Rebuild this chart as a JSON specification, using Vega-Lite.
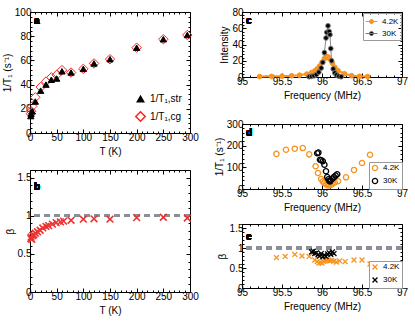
{
  "$schema": "https://vega.github.io/schema/vega-lite/v6.json",
  "padding": {"left": 1, "top": 6, "right": 4, "bottom": 4},
  "config": {
    "font": "Liberation Sans",
    "view": {"stroke": "black", "strokeWidth": 1},
    "axis": {"grid": false, "labelFontSize": 10, "titleFontSize": 10, "titleFontWeight": "normal", "labelColor": "black", "titleColor": "black", "domainColor": "black", "tickColor": "black", "tickSize": -3, "labelPadding": 3, "titlePadding": 2, "labelFlush": false, "labelOverlap": false},
    "legend": {"labelFontSize": 8, "labelColor": "black", "title": null, "rowPadding": 1, "padding": 2, "symbolOffset": 0}
  },
  "spacing": 14,
  "resolve": {"scale": {"color": "independent", "fill": "independent", "stroke": "independent", "shape": "independent", "size": "independent"}},
  "hconcat": [
    {
      "spacing": 12,
      "resolve": {"scale": {"color": "independent", "fill": "independent", "stroke": "independent", "shape": "independent", "size": "independent"}},
      "vconcat": [
        {
          "width": 160, "height": 121,
          "resolve": {"axis": {"x": "independent", "y": "independent"}},
          "data": {"values": [
            {"T": 1.5, "v": 16, "s": "1/T₁,cg"}, {"T": 2, "v": 18, "s": "1/T₁,cg"}, {"T": 4.2, "v": 22, "s": "1/T₁,cg"}, {"T": 10, "v": 29.5, "s": "1/T₁,cg"}, {"T": 20, "v": 38, "s": "1/T₁,cg"}, {"T": 30, "v": 42.5, "s": "1/T₁,cg"}, {"T": 40, "v": 46, "s": "1/T₁,cg"}, {"T": 50, "v": 48, "s": "1/T₁,cg"}, {"T": 60, "v": 52, "s": "1/T₁,cg"}, {"T": 77, "v": 50, "s": "1/T₁,cg"}, {"T": 100, "v": 53, "s": "1/T₁,cg"}, {"T": 120, "v": 57.5, "s": "1/T₁,cg"}, {"T": 150, "v": 61, "s": "1/T₁,cg"}, {"T": 200, "v": 70.5, "s": "1/T₁,cg"}, {"T": 250, "v": 77.5, "s": "1/T₁,cg"}, {"T": 295, "v": 81, "s": "1/T₁,cg"},
            {"T": 1.5, "v": 14, "s": "1/T₁,str"}, {"T": 2, "v": 16, "s": "1/T₁,str"}, {"T": 4.2, "v": 18, "s": "1/T₁,str"}, {"T": 10, "v": 26, "s": "1/T₁,str"}, {"T": 20, "v": 35, "s": "1/T₁,str"}, {"T": 30, "v": 40, "s": "1/T₁,str"}, {"T": 40, "v": 44, "s": "1/T₁,str"}, {"T": 50, "v": 45, "s": "1/T₁,str"}, {"T": 60, "v": 51, "s": "1/T₁,str"}, {"T": 77, "v": 50, "s": "1/T₁,str"}, {"T": 100, "v": 53, "s": "1/T₁,str"}, {"T": 120, "v": 57.5, "s": "1/T₁,str"}, {"T": 150, "v": 61, "s": "1/T₁,str"}, {"T": 200, "v": 70.5, "s": "1/T₁,str"}, {"T": 250, "v": 77.5, "s": "1/T₁,str"}, {"T": 295, "v": 81, "s": "1/T₁,str"}
          ]},
          "layer": [
            {
              "mark": {"type": "point", "strokeWidth": 1, "opacity": 1},
              "encoding": {
                "x": {"field": "T", "type": "quantitative", "scale": {"domain": [0, 300]}, "axis": {"orient": "bottom", "tickCount": 100, "values": [0,10,20,30,40,50,60,70,80,90,100,110,120,130,140,150,160,170,180,190,200,210,220,230,240,250,260,270,280,290,300], "labelExpr": "datum.value % 50 == 0 ? datum.label : ''", "tickSize": {"condition": {"test": "datum.value % 50 == 0", "value": -4}, "value": -2}, "title": "T (K)"}},
                "y": {"field": "v", "type": "quantitative", "scale": {"domain": [0, 100]}, "axis": {"orient": "left", "tickCount": 100, "values": [0,4,8,12,16,20,24,28,32,36,40,44,48,52,56,60,64,68,72,76,80,84,88,92,96,100], "labelExpr": "datum.value % 20 == 0 ? datum.label : ''", "tickSize": {"condition": {"test": "datum.value % 20 == 0", "value": -4}, "value": -2}, "title": "1/T₁ (s⁻¹)"}},
                "shape": {"field": "s", "type": "nominal", "scale": {"domain": ["1/T₁,str", "1/T₁,cg"], "range": ["triangle-up", "diamond"]}, "legend": {"orient": "bottom-right", "offset": 6, "labelFontSize": 10, "rowPadding": 3, "symbolSize": 70}},
                "fill": {"field": "s", "type": "nominal", "scale": {"domain": ["1/T₁,str", "1/T₁,cg"], "range": ["black", "transparent"]}},
                "stroke": {"field": "s", "type": "nominal", "scale": {"domain": ["1/T₁,str", "1/T₁,cg"], "range": ["black", "#FF2020"]}},
                "size": {"field": "s", "type": "nominal", "scale": {"domain": ["1/T₁,str", "1/T₁,cg"], "range": [40, 90]}}
              }
            },
            {
              "mark": {"type": "point", "opacity": 0},
              "encoding": {
                "x": {"field": "T", "type": "quantitative", "scale": {"domain": [0, 300]}, "axis": {"orient": "top", "tickCount": 100, "values": [0,10,20,30,40,50,60,70,80,90,100,110,120,130,140,150,160,170,180,190,200,210,220,230,240,250,260,270,280,290,300], "labels": false, "domain": false, "title": null, "tickSize": {"condition": {"test": "datum.value % 50 == 0", "value": -4}, "value": -2}}},
                "y": {"field": "v", "type": "quantitative", "scale": {"domain": [0, 100]}, "axis": {"orient": "right", "tickCount": 100, "values": [0,4,8,12,16,20,24,28,32,36,40,44,48,52,56,60,64,68,72,76,80,84,88,92,96,100], "labels": false, "domain": false, "title": null, "tickSize": {"condition": {"test": "datum.value % 20 == 0", "value": -4}, "value": -2}}}
              }
            },
            {"mark": {"type": "text", "text": "a", "fontWeight": "bold", "fontSize": 10, "align": "left", "baseline": "top", "dx": 4, "dy": 4, "color": "black"}, "encoding": {"x": {"datum": 0, "axis": null}, "y": {"datum": 100, "axis": null}}}
          ]
        },
        {
          "width": 160, "height": 122,
          "resolve": {"axis": {"x": "independent", "y": "independent"}},
          "data": {"values": [
            {"T": 1.5, "b": 0.70}, {"T": 2, "b": 0.72}, {"T": 3.5, "b": 0.69}, {"T": 5, "b": 0.74}, {"T": 7, "b": 0.75}, {"T": 10, "b": 0.77}, {"T": 14, "b": 0.79}, {"T": 19, "b": 0.81}, {"T": 24, "b": 0.84}, {"T": 30, "b": 0.86}, {"T": 35, "b": 0.87}, {"T": 42, "b": 0.89}, {"T": 49, "b": 0.91}, {"T": 57, "b": 0.92}, {"T": 63, "b": 0.93}, {"T": 77, "b": 0.94}, {"T": 100, "b": 0.955}, {"T": 120, "b": 0.96}, {"T": 150, "b": 0.955}, {"T": 200, "b": 0.975}, {"T": 250, "b": 0.98}, {"T": 295, "b": 0.97}
          ]},
          "layer": [
            {"mark": {"type": "rule", "color": "#8a8f96", "strokeWidth": 2.5, "strokeDash": [6, 4]}, "encoding": {"y": {"datum": 1, "axis": null}}},
            {
              "mark": {"type": "point", "shape": "M-1,-1L1,1M1,-1L-1,1", "filled": false, "color": "#EE3030", "strokeWidth": 1.6, "size": 45, "opacity": 1},
              "encoding": {
                "x": {"field": "T", "type": "quantitative", "scale": {"domain": [0, 300]}, "axis": {"orient": "bottom", "tickCount": 100, "values": [0,10,20,30,40,50,60,70,80,90,100,110,120,130,140,150,160,170,180,190,200,210,220,230,240,250,260,270,280,290,300], "labelExpr": "datum.value % 50 == 0 ? datum.label : ''", "tickSize": {"condition": {"test": "datum.value % 50 == 0", "value": -4}, "value": -2}, "title": "T (K)"}},
                "y": {"field": "b", "type": "quantitative", "scale": {"domain": [0, 1.5]}, "axis": {"orient": "left", "tickCount": 100, "values": [0,0.1,0.2,0.3,0.4,0.5,0.6,0.7,0.8,0.9,1,1.1,1.2,1.3,1.4,1.5], "format": "~g", "labelExpr": "abs(datum.value*2 - round(datum.value*2)) < 0.01 ? datum.label : ''", "tickSize": {"condition": {"test": "abs(datum.value*2 - round(datum.value*2)) < 0.01", "value": -4}, "value": -2}, "title": "β"}}
              }
            },
            {
              "mark": {"type": "point", "opacity": 0},
              "encoding": {
                "x": {"field": "T", "type": "quantitative", "scale": {"domain": [0, 300]}, "axis": {"orient": "top", "tickCount": 100, "values": [0,10,20,30,40,50,60,70,80,90,100,110,120,130,140,150,160,170,180,190,200,210,220,230,240,250,260,270,280,290,300], "labels": false, "domain": false, "title": null, "tickSize": {"condition": {"test": "datum.value % 50 == 0", "value": -4}, "value": -2}}},
                "y": {"field": "b", "type": "quantitative", "scale": {"domain": [0, 1.5]}, "axis": {"orient": "right", "tickCount": 100, "values": [0,0.1,0.2,0.3,0.4,0.5,0.6,0.7,0.8,0.9,1,1.1,1.2,1.3,1.4,1.5], "labels": false, "domain": false, "title": null, "tickSize": {"condition": {"test": "abs(datum.value*2 - round(datum.value*2)) < 0.01", "value": -4}, "value": -2}}}
              }
            },
            {"mark": {"type": "text", "text": "b", "fontWeight": "bold", "fontSize": 10, "align": "left", "baseline": "top", "dx": 4, "dy": 4, "color": "black"}, "encoding": {"x": {"datum": 0, "axis": null}, "y": {"datum": 1.5, "axis": null}}}
          ]
        }
      ]
    },
    {
      "spacing": 9,
      "resolve": {"scale": {"color": "independent", "fill": "independent", "stroke": "independent", "shape": "independent", "size": "independent"}},
      "vconcat": [
        {
          "spacing": 17,
          "resolve": {"scale": {"color": "independent", "fill": "independent", "stroke": "independent", "shape": "independent", "size": "independent"}},
          "vconcat": [
            {
              "width": 160, "height": 65,
              "resolve": {"axis": {"x": "independent", "y": "independent"}},
              "data": {"values": [
                {"f": 95.22, "I": 0.5, "s": "4.2K"}, {"f": 95.37, "I": 0.8, "s": "4.2K"}, {"f": 95.5, "I": 1.0, "s": "4.2K"}, {"f": 95.62, "I": 1.5, "s": "4.2K"}, {"f": 95.72, "I": 2.2, "s": "4.2K"}, {"f": 95.81, "I": 3.6, "s": "4.2K"}, {"f": 95.87, "I": 5.5, "s": "4.2K"}, {"f": 95.91, "I": 7.5, "s": "4.2K"}, {"f": 95.94, "I": 10, "s": "4.2K"}, {"f": 95.97, "I": 13.5, "s": "4.2K"}, {"f": 96.0, "I": 18, "s": "4.2K"}, {"f": 96.03, "I": 22.5, "s": "4.2K"}, {"f": 96.06, "I": 25, "s": "4.2K"}, {"f": 96.08, "I": 24.5, "s": "4.2K"}, {"f": 96.1, "I": 22, "s": "4.2K"}, {"f": 96.13, "I": 17, "s": "4.2K"}, {"f": 96.16, "I": 12, "s": "4.2K"}, {"f": 96.2, "I": 8, "s": "4.2K"}, {"f": 96.28, "I": 4, "s": "4.2K"}, {"f": 96.37, "I": 1.6, "s": "4.2K"}, {"f": 96.47, "I": 0.9, "s": "4.2K"}, {"f": 96.57, "I": 0.5, "s": "4.2K"},
                {"f": 95.84, "I": 0.3, "s": "30K"}, {"f": 95.87, "I": 0.8, "s": "30K"}, {"f": 95.9, "I": 1.5, "s": "30K"}, {"f": 95.93, "I": 3, "s": "30K"}, {"f": 95.96, "I": 6, "s": "30K"}, {"f": 95.99, "I": 11, "s": "30K"}, {"f": 96.01, "I": 18, "s": "30K"}, {"f": 96.03, "I": 30, "s": "30K"}, {"f": 96.05, "I": 48, "s": "30K"}, {"f": 96.06, "I": 55, "s": "30K"}, {"f": 96.075, "I": 63, "s": "30K"}, {"f": 96.09, "I": 56, "s": "30K"}, {"f": 96.1, "I": 52, "s": "30K"}, {"f": 96.11, "I": 35, "s": "30K"}, {"f": 96.12, "I": 20, "s": "30K"}, {"f": 96.14, "I": 10, "s": "30K"}, {"f": 96.16, "I": 5, "s": "30K"}, {"f": 96.18, "I": 2.5, "s": "30K"}, {"f": 96.21, "I": 1, "s": "30K"}, {"f": 96.24, "I": 0.3, "s": "30K"}
              ]},
              "layer": [
                {
                  "transform": [{"filter": "datum.s == '30K'"}],
                  "mark": {"type": "line", "color": "#8a8a8a", "strokeWidth": 1},
                  "encoding": {
                    "x": {"field": "f", "type": "quantitative", "scale": {"domain": [95, 97]}, "axis": {"orient": "bottom", "tickCount": 100, "values": [95,95.1,95.2,95.3,95.4,95.5,95.6,95.7,95.8,95.9,96,96.1,96.2,96.3,96.4,96.5,96.6,96.7,96.8,96.9,97], "format": "~g", "labelExpr": "abs(datum.value*2 - round(datum.value*2)) < 0.01 ? datum.label : ''", "tickSize": {"condition": {"test": "abs(datum.value*2 - round(datum.value*2)) < 0.01", "value": -4}, "value": -2}, "title": "Frequency (MHz)"}},
                    "y": {"field": "I", "type": "quantitative", "scale": {"domain": [0, 80]}, "axis": {"orient": "left", "tickCount": 100, "values": [0,4,8,12,16,20,24,28,32,36,40,44,48,52,56,60,64,68,72,76,80], "labelExpr": "datum.value % 20 == 0 ? datum.label : ''", "tickSize": {"condition": {"test": "datum.value % 20 == 0", "value": -4}, "value": -2}, "title": "Intensity"}}
                  }
                },
                {
                  "mark": {"type": "point", "opacity": 0},
                  "encoding": {
                    "x": {"field": "f", "type": "quantitative", "scale": {"domain": [95, 97]}, "axis": {"orient": "top", "tickCount": 100, "values": [95,95.1,95.2,95.3,95.4,95.5,95.6,95.7,95.8,95.9,96,96.1,96.2,96.3,96.4,96.5,96.6,96.7,96.8,96.9,97], "labels": false, "domain": false, "title": null, "tickSize": {"condition": {"test": "abs(datum.value*2 - round(datum.value*2)) < 0.01", "value": -4}, "value": -2}}},
                    "y": {"field": "I", "type": "quantitative", "scale": {"domain": [0, 80]}, "axis": {"orient": "right", "tickCount": 100, "values": [0,4,8,12,16,20,24,28,32,36,40,44,48,52,56,60,64,68,72,76,80], "labels": false, "domain": false, "title": null, "tickSize": {"condition": {"test": "datum.value % 20 == 0", "value": -4}, "value": -2}}}
                  }
                },
                {"transform": [{"filter": "datum.s == '4.2K'"}], "mark": {"type": "line", "color": "#F7931E", "strokeWidth": 2}, "encoding": {"x": {"field": "f", "type": "quantitative", "axis": null}, "y": {"field": "I", "type": "quantitative", "axis": null}}},
                {
                  "mark": {"type": "point", "filled": true, "opacity": 1, "strokeWidth": 1},
                  "encoding": {
                    "x": {"field": "f", "type": "quantitative", "axis": null},
                    "y": {"field": "I", "type": "quantitative", "axis": null},
                    "fill": {"field": "s", "type": "nominal", "scale": {"domain": ["4.2K", "30K"], "range": ["#F7931E", "black"]}, "legend": {"orient": "top-right", "offset": 1, "strokeColor": "#999999", "symbolType": "M-1,0L1,0M0.35,0A0.35,0.35 0 1 1 -0.35,0A0.35,0.35 0 1 1 0.35,0", "symbolSize": 140, "symbolStrokeWidth": 1}},
                    "stroke": {"field": "s", "type": "nominal", "scale": {"domain": ["4.2K", "30K"], "range": ["#F7931E", "#777777"]}},
                    "size": {"value": 22}
                  }
                },
                {"mark": {"type": "text", "text": "c", "fontWeight": "bold", "fontSize": 10, "align": "left", "baseline": "top", "dx": 4, "dy": 4, "color": "black"}, "encoding": {"x": {"datum": 95, "axis": null}, "y": {"datum": 80, "axis": null}}}
              ]
            },
            {
              "width": 160, "height": 65,
              "resolve": {"axis": {"x": "independent", "y": "independent"}},
              "data": {"values": [
                {"f": 95.43, "r": 162, "s": "4.2K"}, {"f": 95.55, "r": 181, "s": "4.2K"}, {"f": 95.66, "r": 186, "s": "4.2K"}, {"f": 95.76, "r": 189, "s": "4.2K"}, {"f": 95.84, "r": 160, "s": "4.2K"}, {"f": 95.92, "r": 105, "s": "4.2K"}, {"f": 95.95, "r": 74, "s": "4.2K"}, {"f": 95.99, "r": 46, "s": "4.2K"}, {"f": 96.01, "r": 35, "s": "4.2K"}, {"f": 96.03, "r": 28, "s": "4.2K"}, {"f": 96.05, "r": 22, "s": "4.2K"}, {"f": 96.07, "r": 18, "s": "4.2K"}, {"f": 96.09, "r": 17, "s": "4.2K"}, {"f": 96.11, "r": 19, "s": "4.2K"}, {"f": 96.13, "r": 24, "s": "4.2K"}, {"f": 96.16, "r": 30, "s": "4.2K"}, {"f": 96.2, "r": 36, "s": "4.2K"}, {"f": 96.3, "r": 54, "s": "4.2K"}, {"f": 96.4, "r": 88, "s": "4.2K"}, {"f": 96.5, "r": 120, "s": "4.2K"}, {"f": 96.6, "r": 158, "s": "4.2K"},
                {"f": 95.94, "r": 165, "s": "30K"}, {"f": 95.955, "r": 168, "s": "30K"}, {"f": 95.975, "r": 135, "s": "30K"}, {"f": 95.99, "r": 133, "s": "30K"}, {"f": 96.01, "r": 128, "s": "30K"}, {"f": 96.03, "r": 112, "s": "30K"}, {"f": 96.05, "r": 82, "s": "30K"}, {"f": 96.065, "r": 55, "s": "30K"}, {"f": 96.08, "r": 45, "s": "30K"}, {"f": 96.09, "r": 38, "s": "30K"}, {"f": 96.1, "r": 35, "s": "30K"}, {"f": 96.11, "r": 40, "s": "30K"}, {"f": 96.13, "r": 48, "s": "30K"}, {"f": 96.15, "r": 55, "s": "30K"}, {"f": 96.17, "r": 62, "s": "30K"}, {"f": 96.19, "r": 68, "s": "30K"}
              ]},
              "layer": [
                {
                  "mark": {"type": "point", "filled": false, "strokeWidth": 1.3, "size": 28, "opacity": 1},
                  "encoding": {
                    "x": {"field": "f", "type": "quantitative", "scale": {"domain": [95, 97]}, "axis": {"orient": "bottom", "tickCount": 100, "values": [95,95.1,95.2,95.3,95.4,95.5,95.6,95.7,95.8,95.9,96,96.1,96.2,96.3,96.4,96.5,96.6,96.7,96.8,96.9,97], "format": "~g", "labelExpr": "abs(datum.value*2 - round(datum.value*2)) < 0.01 ? datum.label : ''", "tickSize": {"condition": {"test": "abs(datum.value*2 - round(datum.value*2)) < 0.01", "value": -4}, "value": -2}, "title": "Frequency (MHz)"}},
                    "y": {"field": "r", "type": "quantitative", "scale": {"domain": [0, 300]}, "axis": {"orient": "left", "tickCount": 100, "values": [0,20,40,60,80,100,120,140,160,180,200,220,240,260,280,300], "labelExpr": "datum.value % 100 == 0 ? datum.label : ''", "tickSize": {"condition": {"test": "datum.value % 100 == 0", "value": -4}, "value": -2}, "title": "1/T₁ (s⁻¹)"}},
                    "color": {"field": "s", "type": "nominal", "scale": {"domain": ["4.2K", "30K"], "range": ["#F7931E", "black"]}, "legend": {"orient": "bottom-right", "offset": 0, "strokeColor": "#999999", "fillColor": "white", "symbolSize": 28, "symbolStrokeWidth": 1.3}}
                  }
                },
                {
                  "mark": {"type": "point", "opacity": 0},
                  "encoding": {
                    "x": {"field": "f", "type": "quantitative", "scale": {"domain": [95, 97]}, "axis": {"orient": "top", "tickCount": 100, "values": [95,95.1,95.2,95.3,95.4,95.5,95.6,95.7,95.8,95.9,96,96.1,96.2,96.3,96.4,96.5,96.6,96.7,96.8,96.9,97], "labels": false, "domain": false, "title": null, "tickSize": {"condition": {"test": "abs(datum.value*2 - round(datum.value*2)) < 0.01", "value": -4}, "value": -2}}},
                    "y": {"field": "r", "type": "quantitative", "scale": {"domain": [0, 300]}, "axis": {"orient": "right", "tickCount": 100, "values": [0,20,40,60,80,100,120,140,160,180,200,220,240,260,280,300], "labels": false, "domain": false, "title": null, "tickSize": {"condition": {"test": "datum.value % 100 == 0", "value": -4}, "value": -2}}}
                  }
                },
                {"mark": {"type": "text", "text": "d", "fontWeight": "bold", "fontSize": 10, "align": "left", "baseline": "top", "dx": 4, "dy": 4, "color": "black"}, "encoding": {"x": {"datum": 95, "axis": null}, "y": {"datum": 300, "axis": null}}}
              ]
            }
          ]
        },
        {
          "width": 160, "height": 64,
          "resolve": {"axis": {"x": "independent", "y": "independent"}},
          "data": {"values": [
            {"f": 95.43, "b": 0.76, "s": "4.2K"}, {"f": 95.54, "b": 0.79, "s": "4.2K"}, {"f": 95.66, "b": 0.84, "s": "4.2K"}, {"f": 95.75, "b": 0.80, "s": "4.2K"}, {"f": 95.84, "b": 0.79, "s": "4.2K"}, {"f": 95.91, "b": 0.70, "s": "4.2K"}, {"f": 95.94, "b": 0.66, "s": "4.2K"}, {"f": 95.96, "b": 0.62, "s": "4.2K"}, {"f": 95.98, "b": 0.64, "s": "4.2K"}, {"f": 96.0, "b": 0.62, "s": "4.2K"}, {"f": 96.02, "b": 0.66, "s": "4.2K"}, {"f": 96.04, "b": 0.68, "s": "4.2K"}, {"f": 96.06, "b": 0.70, "s": "4.2K"}, {"f": 96.08, "b": 0.70, "s": "4.2K"}, {"f": 96.1, "b": 0.68, "s": "4.2K"}, {"f": 96.12, "b": 0.69, "s": "4.2K"}, {"f": 96.15, "b": 0.67, "s": "4.2K"}, {"f": 96.18, "b": 0.65, "s": "4.2K"}, {"f": 96.22, "b": 0.68, "s": "4.2K"}, {"f": 96.29, "b": 0.66, "s": "4.2K"}, {"f": 96.4, "b": 0.70, "s": "4.2K"}, {"f": 96.5, "b": 0.70, "s": "4.2K"}, {"f": 96.6, "b": 0.60, "s": "4.2K"},
            {"f": 95.87, "b": 0.90, "s": "30K"}, {"f": 95.89, "b": 0.92, "s": "30K"}, {"f": 95.91, "b": 0.86, "s": "30K"}, {"f": 95.93, "b": 0.88, "s": "30K"}, {"f": 95.95, "b": 0.83, "s": "30K"}, {"f": 95.97, "b": 0.80, "s": "30K"}, {"f": 95.99, "b": 0.86, "s": "30K"}, {"f": 96.01, "b": 0.78, "s": "30K"}, {"f": 96.03, "b": 0.82, "s": "30K"}, {"f": 96.05, "b": 0.79, "s": "30K"}, {"f": 96.07, "b": 0.85, "s": "30K"}, {"f": 96.09, "b": 0.88, "s": "30K"}, {"f": 96.11, "b": 0.84, "s": "30K"}, {"f": 96.13, "b": 0.90, "s": "30K"}, {"f": 96.15, "b": 0.86, "s": "30K"}
          ]},
          "layer": [
            {"mark": {"type": "rule", "color": "#8a8f96", "strokeWidth": 2.5, "strokeDash": [6, 4]}, "encoding": {"y": {"datum": 1, "axis": null}}},
            {
              "mark": {"type": "point", "shape": "M-1,-1L1,1M1,-1L-1,1", "filled": false, "strokeWidth": 1.3, "size": 24, "opacity": 1},
              "encoding": {
                "x": {"field": "f", "type": "quantitative", "scale": {"domain": [95, 97]}, "axis": {"orient": "bottom", "tickCount": 100, "values": [95,95.1,95.2,95.3,95.4,95.5,95.6,95.7,95.8,95.9,96,96.1,96.2,96.3,96.4,96.5,96.6,96.7,96.8,96.9,97], "format": "~g", "labelExpr": "abs(datum.value*2 - round(datum.value*2)) < 0.01 ? datum.label : ''", "tickSize": {"condition": {"test": "abs(datum.value*2 - round(datum.value*2)) < 0.01", "value": -4}, "value": -2}, "title": "Frequency (MHz)"}},
                "y": {"field": "b", "type": "quantitative", "scale": {"domain": [0, 1.5]}, "axis": {"orient": "left", "tickCount": 100, "values": [0,0.1,0.2,0.3,0.4,0.5,0.6,0.7,0.8,0.9,1,1.1,1.2,1.3,1.4,1.5], "format": "~g", "labelExpr": "abs(datum.value*2 - round(datum.value*2)) < 0.01 ? datum.label : ''", "tickSize": {"condition": {"test": "abs(datum.value*2 - round(datum.value*2)) < 0.01", "value": -4}, "value": -2}, "title": "β"}},
                "color": {"field": "s", "type": "nominal", "scale": {"domain": ["4.2K", "30K"], "range": ["#F7931E", "black"]}, "legend": {"orient": "bottom-right", "offset": 0, "strokeColor": "#999999", "fillColor": "white", "symbolType": "M-1,-1L1,1M1,-1L-1,1", "symbolSize": 24, "symbolStrokeWidth": 1.3}}
              }
            },
            {
              "mark": {"type": "point", "opacity": 0},
              "encoding": {
                "x": {"field": "f", "type": "quantitative", "scale": {"domain": [95, 97]}, "axis": {"orient": "top", "tickCount": 100, "values": [95,95.1,95.2,95.3,95.4,95.5,95.6,95.7,95.8,95.9,96,96.1,96.2,96.3,96.4,96.5,96.6,96.7,96.8,96.9,97], "labels": false, "domain": false, "title": null, "tickSize": {"condition": {"test": "abs(datum.value*2 - round(datum.value*2)) < 0.01", "value": -4}, "value": -2}}},
                "y": {"field": "b", "type": "quantitative", "scale": {"domain": [0, 1.5]}, "axis": {"orient": "right", "tickCount": 100, "values": [0,0.1,0.2,0.3,0.4,0.5,0.6,0.7,0.8,0.9,1,1.1,1.2,1.3,1.4,1.5], "labels": false, "domain": false, "title": null, "tickSize": {"condition": {"test": "abs(datum.value*2 - round(datum.value*2)) < 0.01", "value": -4}, "value": -2}}}
              }
            },
            {"mark": {"type": "text", "text": "e", "fontWeight": "bold", "fontSize": 10, "align": "left", "baseline": "top", "dx": 4, "dy": 4, "color": "black"}, "encoding": {"x": {"datum": 95, "axis": null}, "y": {"datum": 1.5, "axis": null}}}
          ]
        }
      ]
    }
  ]
}
